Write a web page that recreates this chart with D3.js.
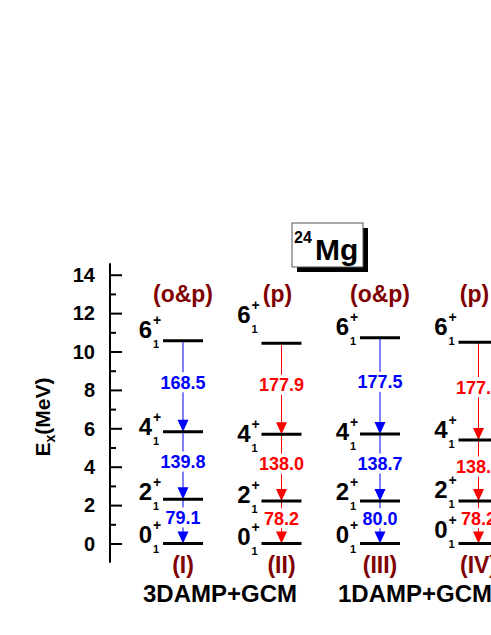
<!DOCTYPE html>
<html>
<head>
<meta charset="utf-8">
<script src="https://cdn.jsdelivr.net/npm/d3@7"></script>
<style>
  html, body { margin: 0; padding: 0; background: #fff; }
  svg { display: block; font-family: Arial, "Liberation Sans", sans-serif; }
</style>
</head>
<body>
<svg id="chart" width="491" height="635"></svg>
<script>
// ---------------- data ----------------
const columns = ["I", "II", "III", "IV"];
const headers = ["(o&p)", "(p)", "(o&p)", "(p)"];
const bottomLabels = ["(I)", "(II)", "(III)", "(IV)"];
const methods = ["3DAMP+GCM", "1DAMP+GCM"];
const spins = ["0", "2", "4", "6"];
// level energies (MeV) for 0+,2+,4+,6+
const levelsI   = [0, 2.30, 5.82, 10.56];
const levelsII  = [0, 2.21, 5.69, 10.43];
const levelsIII = [0, 2.21, 5.70, 10.72];
const levelsIV  = [0, 2.21, 5.39, 10.48];
// B(E2) values for 2->0, 4->2, 6->4
const be2I   = [79.1, 139.8, 168.5];
const be2II  = [78.2, 138.0, 177.9];
const be2III = [80.0, 138.7, 177.5];
const be2IV  = [78.2, 138.0, 177.9];
const yTicks = [0, 2, 4, 6, 8, 10, 12, 14];
const yMinorTicks = [1, 3, 5, 7, 9, 11, 13];

// ---------------- layout ----------------
const levels = [levelsI, levelsII, levelsIII, levelsIV];
const be2 = [be2I, be2II, be2III, be2IV];
const colColors = ["#0000ff", "#ff0000", "#0000ff", "#ff0000"];
const darkRed = "#800000";
// per-column label baseline offsets (px) relative to level line, for 0+,2+,4+,6+
const labelOffsets = [
  [-1, 1, 3, -3],
  [1, 2, 8, -20],
  [-1, -1, 6, -3],
  [-6, -3, -2, -7]
];

const svg = d3.select("#chart");
const y = d3.scaleLinear().domain([-1, 14.6]).range([562.7, 263.2]);
const x = d3.scalePoint().domain(columns).range([183, 478.5]);
const halfW = 20;
const axisX = 110;

// axis
const axis = d3.axisRight(y).tickValues(yTicks).tickSize(12).tickFormat("");
const gAxis = svg.append("g").attr("transform", `translate(${axisX},0)`);
gAxis.call(axis);
gAxis.select(".domain").attr("d", `M0,${y(-1)}V${y(14.6)}`).attr("stroke", "#000").attr("stroke-width", 2);
gAxis.selectAll(".tick line").attr("stroke", "#000").attr("stroke-width", 2);
const minor = d3.axisRight(y).tickValues(yMinorTicks).tickSize(6).tickFormat("");
const gMinor = svg.append("g").attr("transform", `translate(${axisX},0)`).call(minor);
gMinor.select(".domain").remove();
gMinor.selectAll(".tick line").attr("stroke", "#000").attr("stroke-width", 2);

svg.append("g").selectAll("text").data(yTicks).join("text")
  .attr("x", axisX - 15).attr("y", d => y(d)).attr("dy", "0.36em")
  .attr("text-anchor", "end").attr("font-size", 20).attr("font-weight", "bold")
  .text(d => d);

// y title
const yt = svg.append("text")
  .attr("transform", "translate(50,417) rotate(-90)")
  .attr("text-anchor", "middle").attr("font-size", 21).attr("font-weight", "bold");
yt.append("tspan").text("E");
yt.append("tspan").attr("font-size", 14).attr("dy", 5).text("x");
yt.append("tspan").attr("dy", -5).text("(MeV)");

// title box
svg.append("rect").attr("x", 297).attr("y", 228).attr("width", 71).attr("height", 44).attr("fill", "#000");
svg.append("rect").attr("x", 292).attr("y", 223).attr("width", 71).attr("height", 44)
  .attr("fill", "#fff").attr("stroke", "#555").attr("stroke-width", 1);
svg.append("text").attr("x", 294).attr("y", 243).attr("font-size", 16).attr("font-weight", "bold").text("24");
svg.append("text").attr("x", 315).attr("y", 260).attr("font-size", 30).attr("font-weight", "bold").text("Mg");

// columns
columns.forEach((c, ci) => {
  const cx = x(c);
  const lv = levels[ci];
  const g = svg.append("g");
  // header
  g.append("text").attr("x", cx - (headers[ci] === "(p)" ? 4 : 0)).attr("y", 302)
    .attr("text-anchor", "middle").attr("font-size", 23).attr("font-weight", "bold")
    .attr("fill", darkRed).text(headers[ci]);
  // bottom label
  g.append("text").attr("x", cx).attr("y", 573)
    .attr("text-anchor", "middle").attr("font-size", 23).attr("font-weight", "bold")
    .attr("fill", darkRed).text(bottomLabels[ci]);
  // transitions
  for (let t = 0; t < 3; t++) {
    const yu = y(lv[t + 1]), yl = y(lv[t]);
    g.append("line").attr("x1", cx).attr("x2", cx).attr("y1", yu).attr("y2", yl - 10)
      .attr("stroke", colColors[ci]).attr("stroke-width", 1);
    g.append("path").attr("d", `M${cx - 5.5},${yl - 12}L${cx + 5.5},${yl - 12}L${cx},${yl}Z`)
      .attr("fill", colColors[ci]);
    const ym = (yu + yl) / 2 - 4;
    const txt = g.append("text").attr("x", cx).attr("y", ym).attr("dy", "0.36em")
      .attr("text-anchor", "middle").attr("font-size", 18).attr("font-weight", "bold")
      .attr("fill", colColors[ci]).text(be2[ci][t].toFixed(1));
    g.insert("rect", () => txt.node())
      .attr("x", cx - 3).attr("width", 6)
      .attr("y", ym - 10).attr("height", 20).attr("fill", "#fff");
  }
  // levels
  lv.forEach((e, li) => {
    g.append("line").attr("x1", cx - halfW).attr("x2", cx + halfW)
      .attr("y1", y(e)).attr("y2", y(e)).attr("stroke", "#000").attr("stroke-width", 3);
    const by = y(e) + labelOffsets[ci][li];
    const lx = cx - halfW;
    g.append("text").attr("x", lx - 11).attr("y", by).attr("text-anchor", "end")
      .attr("font-size", 24).attr("font-weight", "bold").text(spins[li]);
    g.append("text").attr("x", lx - 10).attr("y", by - 13)
      .attr("font-size", 14).attr("font-weight", "bold").text("+");
    g.append("text").attr("x", lx - 10).attr("y", by + 10)
      .attr("font-size", 11).attr("font-weight", "bold").text("1");
  });
});

// method labels
svg.append("text").attr("x", 220).attr("y", 602)
  .attr("text-anchor", "middle").attr("font-size", 24).attr("font-weight", "bold").text(methods[0]);
svg.append("text").attr("x", 415).attr("y", 602)
  .attr("text-anchor", "middle").attr("font-size", 24).attr("font-weight", "bold").text(methods[1]);
</script>
</body>
</html>
